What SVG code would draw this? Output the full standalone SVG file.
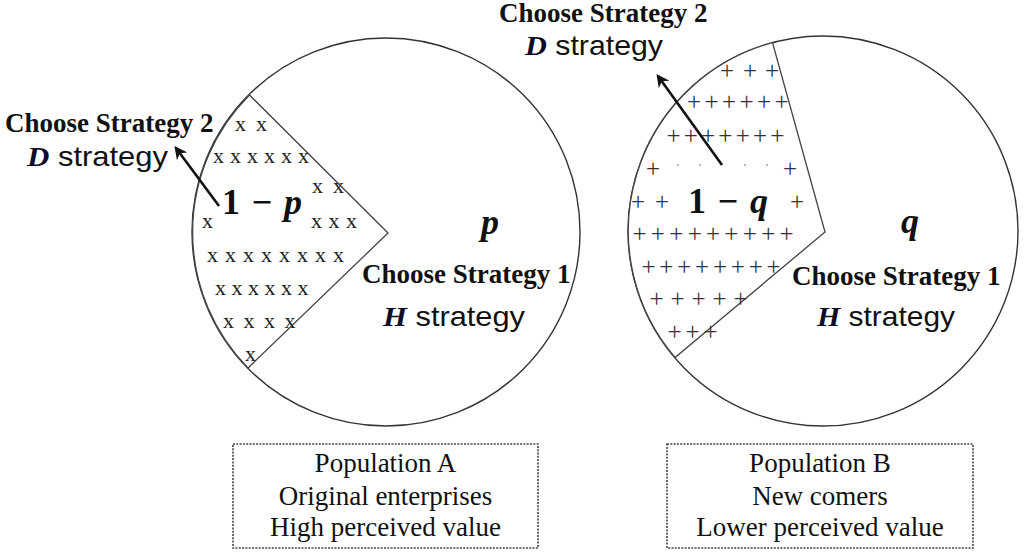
<svg xmlns="http://www.w3.org/2000/svg" width="1024" height="553" viewBox="0 0 1024 553">
<defs>
<style>
.ring{fill:#fff;stroke:#333;stroke-width:1.4}
.wedge{fill:#fff;stroke:#444;stroke-width:1.3}
.lbl{font-family:"Liberation Serif",serif;font-weight:bold;font-size:27px;fill:#111}
.bi{font-family:"Liberation Serif",serif;font-weight:bold;font-style:italic;fill:#0d0d2a}
.st{font-family:"Liberation Sans",sans-serif;font-size:28px;fill:#111}
.math{font-family:"Liberation Serif",serif;font-weight:bold;font-size:36px;fill:#111}
.var{font-family:"Liberation Serif",serif;font-weight:bold;font-style:italic;font-size:36px;fill:#111}
.hx{font-family:"Liberation Serif",serif;font-size:22px;fill:#222;text-anchor:middle}
.hp{font-family:"Liberation Serif",serif;font-size:25px;fill:#333;text-anchor:middle}
.box{fill:#fff;stroke:#444;stroke-width:1.6;stroke-dasharray:2 1.3}
.bt{font-family:"Liberation Serif",serif;font-size:27px;fill:#111;text-anchor:middle}
.arr{stroke:#111;stroke-width:2.6;fill:none;marker-end:url(#ah)}
</style>
<marker id="ah" viewBox="0 0 10 10" refX="8" refY="5" markerWidth="5" markerHeight="5" orient="auto" markerUnits="strokeWidth">
<path d="M0,0 L10,5 L0,10 L3,5 z" fill="#111"/>
</marker>
</defs>
<rect width="1024" height="553" fill="#fff"/>

<g id="popA">
<circle class="ring" cx="386" cy="232" r="194"/>
<path class="wedge" d="M388,233 L249.5,95 A194,194 0 0 0 248,368 Z"/>
<g id="hatchA">
<text class="hx" x="240.5 261.5" y="131">xx</text>
<text class="hx" x="218.5 235.5 252.5 269.5 286.5 303.5" y="163">xxxxxx</text>
<text class="hx" x="317.5 338.5" y="193">xx</text>
<text class="hx" x="207.5" y="228">x</text>
<text class="hx" x="316.5 334 351.5" y="228">xxx</text>
<text class="hx" x="212.5 230.5 248.5 266.5 284.5 302.5 320.5 338.5" y="262">xxxxxxxx</text>
<text class="hx" x="220.5 237 253.5 270 286.5 303" y="295">xxxxxx</text>
<text class="hx" x="228.5 249 269.5 290" y="328">xxxx</text>
<text class="hx" x="250.5" y="361">x</text>
</g>
<text class="math" x="222" y="214" textLength="80" lengthAdjust="spacing">1 − <tspan font-style="italic">p</tspan></text>
<text class="var" x="490" y="234" text-anchor="middle">p</text>
<text class="lbl" x="362" y="283">Choose Strategy 1</text>
<text x="383" y="326" textLength="142" lengthAdjust="spacingAndGlyphs"><tspan class="bi" font-size="28">H</tspan><tspan class="st"> strategy</tspan></text>
</g>

<g id="popB">
<circle class="ring" cx="823" cy="231" r="195"/>
<path class="wedge" d="M825,232 L772.5,42.6 A195,195 0 0 0 675,357.5 Z"/>
<g id="hatchB">
<text class="hp" x="727 750 772" y="79">+++</text>
<text class="hp" x="694 711.5 729 746.5 764 781.5" y="110">++++++</text>
<text class="hp" x="673.5 690.8 708 725.4 742.7 760 777.3" y="144">+++++++</text>
<text class="hp" x="653" y="177">+</text>
<text class="hp" x="790" y="177">+</text>
<text class="hp" x="638 662" y="210">++</text>
<text class="hp" x="797" y="210">+</text>
<text class="hp" x="639.5 657.9 676.3 694.7 713 731.4 749.8 768.2 786.5" y="242">+++++++++</text>
<text class="hp" x="648.5 666.4 684.3 702.1 720 737.9 755.7 773.5" y="275">++++++++</text>
<text class="hp" x="656.5 677.5 698.5 719.5 740.5" y="307">+++++</text>
<text class="hp" x="674.5 692.5 710.5" y="340">+++</text>
<g fill="#999"><circle cx="678" cy="165" r="0.9"/><circle cx="700" cy="165" r="0.9"/><circle cx="745" cy="165" r="0.9"/><circle cx="767" cy="165" r="0.9"/></g>
</g>
<text class="math" x="688" y="213" textLength="80" lengthAdjust="spacing">1 − <tspan font-style="italic">q</tspan></text>
<text class="var" x="910" y="233" text-anchor="middle">q</text>
<text class="lbl" x="792" y="285">Choose Strategy 1</text>
<text x="817" y="326" textLength="138" lengthAdjust="spacingAndGlyphs"><tspan class="bi" font-size="28">H</tspan><tspan class="st"> strategy</tspan></text>
</g>

<g id="labelA2">
<text class="lbl" x="5" y="132">Choose Strategy 2</text>
<text x="27" y="166" textLength="141" lengthAdjust="spacingAndGlyphs"><tspan class="bi" font-size="28">D</tspan><tspan class="st"> strategy</tspan></text>
</g>
<g id="labelB2">
<text class="lbl" x="499" y="22">Choose Strategy 2</text>
<text x="525" y="55" textLength="138" lengthAdjust="spacingAndGlyphs"><tspan class="bi" font-size="28">D</tspan><tspan class="st"> strategy</tspan></text>
</g>

<g id="connectors">
<line class="arr" x1="219" y1="206" x2="176" y2="148"/>
<line class="arr" x1="722" y1="165" x2="658" y2="76"/>
</g>

<g id="boxA">
<rect class="box" x="233" y="444" width="305" height="104"/>
<text class="bt" x="385.5" y="472">Population A</text>
<text class="bt" x="385.5" y="505">Original enterprises</text>
<text class="bt" x="385.5" y="536">High perceived value</text>
</g>
<g id="boxB">
<rect class="box" x="667" y="444" width="306" height="104"/>
<text class="bt" x="820" y="472">Population B</text>
<text class="bt" x="820" y="505">New comers</text>
<text class="bt" x="820" y="536">Lower perceived value</text>
</g>
</svg>
